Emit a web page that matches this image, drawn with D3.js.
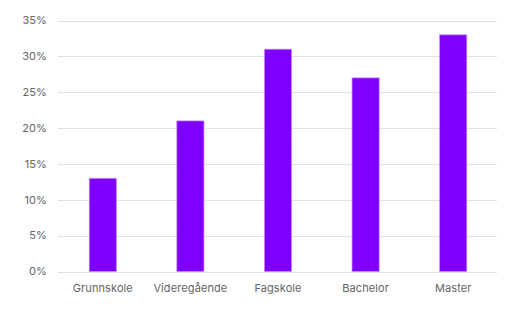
<!DOCTYPE html>
<html lang="no">
<head>
    <meta charset="UTF-8">
    <script src="https://d3js.org/d3.v7.min.js"></script>
    <style>
        body { margin: 0; background: white; font-family: Inter, "Open Sans", sans-serif; }
        svg text { fill: #646464; font-size: 11px; letter-spacing: 0.1px; }
    </style>
</head>
<body>
    <svg id="vis"></svg>
    <script>
        const categories = ["Grunnskole", "Videregående", "Fagskole", "Bachelor", "Master"];
        const values = [0.13, 0.21, 0.31, 0.27, 0.33];
        const yTicks = [0, 0.05, 0.10, 0.15, 0.20, 0.25, 0.30, 0.35];

        const width = 529, height = 310;
        const svg = d3.select("#vis").attr("width", width).attr("height", height);

        const x = d3.scaleBand().domain(categories).range([59, 497]).padding(0);
        const y = d3.scaleLinear().domain([0, 0.35]).range([271.5, 20.5]);
        const barW = x.bandwidth() * 0.31;

        // gridlines
        svg.append("g").selectAll("line")
            .data(yTicks)
            .join("line")
            .attr("x1", 58).attr("x2", 497)
            .attr("y1", d => Math.round(y(d)) + 0.5)
            .attr("y2", d => Math.round(y(d)) + 0.5)
            .attr("stroke", "#e1e1e1")
            .attr("stroke-width", 1);

        // y labels
        svg.append("g").selectAll("text")
            .data(yTicks)
            .join("text")
            .attr("x", 47)
            .attr("y", d => y(d))
            .attr("dy", "0.35em")
            .attr("text-anchor", "end")
            .text(d => d3.format(".0%")(d));

        // bars
        svg.append("g").selectAll("rect")
            .data(values)
            .join("rect")
            .attr("x", (d, i) => x(categories[i]) + x.bandwidth() / 2 - barW / 2)
            .attr("width", barW)
            .attr("y", d => y(d))
            .attr("height", d => y(0) - y(d))
            .attr("fill", "#7f00ff")
            .attr("stroke", "#c58cff")
            .attr("stroke-width", 0.75);

        // x labels
        svg.append("g").selectAll("text")
            .data(categories)
            .join("text")
            .attr("x", d => x(d) + x.bandwidth() / 2)
            .attr("y", 288)
            .attr("dy", "0.35em")
            .attr("text-anchor", "middle")
            .text(d => d);
    </script>
</body>
</html>
